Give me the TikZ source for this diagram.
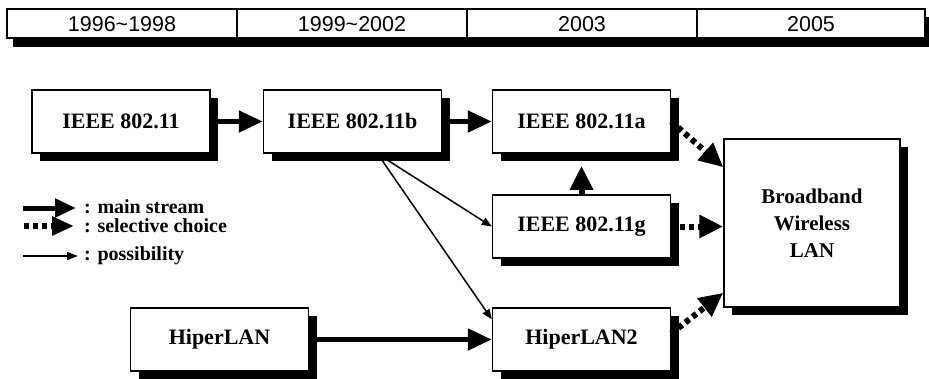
\documentclass[tikz,border=0pt]{standalone}
\usepackage{fontspec}
\setmainfont{Liberation Serif}
\setsansfont{Liberation Sans}
\usetikzlibrary{arrows.meta,shadows}
\begin{document}
\begin{tikzpicture}[x=1pt,y=-1pt,
  box/.style={draw=black, line width=1.5pt, fill=white, minimum width=178pt, minimum height=63pt,
    inner sep=0pt, font=\fontsize{22}{26}\selectfont\bfseries,
    drop shadow={shadow xshift=8pt, shadow yshift=-8pt, fill=black, opacity=1}},
  yearlbl/.style={font=\sffamily\fontsize{21.5}{24}\selectfont, inner sep=0pt},
  legtxt/.style={font=\fontsize{20}{22}\selectfont\bfseries, anchor=west, inner sep=0pt},
  mainarr/.style={line width=5pt, -{Triangle[length=24pt,width=21pt]}},
  selarr/.style={line width=6pt, dash pattern=on 5pt off 4pt, -{Triangle[length=24pt,width=22pt]}},
  posarr/.style={line width=1.5pt, -{Triangle[length=10pt,width=8pt]}},
]
\useasboundingbox (0,0) rectangle (929,378);
% header bar
\fill[black] (13,17) rectangle (935,47);
\draw[line width=1.5pt, fill=white] (7,9) rectangle (925,38);
\draw[line width=1.5pt] (237,9) -- (237,38) (467,9) -- (467,38) (697,9) -- (697,38);
\node[yearlbl] (y1) at (122,24) {1996\char"007E 1998};
\node[yearlbl] (y2) at (352,24) {1999\char"007E 2002};
\node[yearlbl] (y3) at (582,24) {2003};
\node[yearlbl] (y4) at (811,24) {2005};
% boxes
\node[box] (n1) at (121,121.5) {IEEE 802.11};
\node[box] (nb) at (352.5,121.5) {IEEE 802.11b};
\node[box] (na) at (581.5,121.5) {IEEE 802.11a};
\node[box] (ng) at (581.5,226.5) {IEEE 802.11g};
\node[box] (hl) at (219.5,339.5) {HiperLAN};
\node[box] (h2) at (581.5,339.5) {HiperLAN2};
\node[box, minimum width=176pt, minimum height=168pt, align=center,
  font=\fontsize{21}{27}\selectfont\bfseries] (bb) at (812,223) {Broadband\\Wireless\\LAN};
% connectors
\draw[mainarr] (n1.east) -- (nb.west);
\draw[mainarr] (nb.east) -- (na.west);
\draw[mainarr] (hl.east) -- (h2.west);
\draw[selarr, shorten >=12pt] (ng.north) -- (na.south);
\draw[selarr] (ng.east) -- (ng.east -| bb.west);
\draw[selarr] (na.east) -- ([yshift=-29pt]bb.north west);
\draw[selarr] ([yshift=6pt]h2.east) -- ([yshift=15pt]bb.south west);
\draw[posarr] ([xshift=25pt]nb.south) -- (ng.west);
\draw[posarr] ([xshift=25pt]nb.south) -- ([yshift=-12pt]h2.north west);
% legend
\coordinate (l1s) at (23,208); \coordinate (l1e) at (76,208);
\coordinate (l2s) at (24,226); \coordinate (l2e) at (74,226);
\coordinate (l3s) at (23,256); \coordinate (l3e) at (78,256);
\draw[line width=5pt, -{Triangle[length=21pt,width=18pt]}] (l1s) -- (l1e);
\draw[line width=6pt, dash pattern=on 5pt off 4pt, -{Triangle[length=22pt,width=18pt]}] (l2s) -- (l2e);
\draw[line width=1.5pt, -{Triangle[length=11pt,width=8pt]}] (l3s) -- (l3e);
\node[legtxt] (t1) at (84,207) {: main stream};
\node[legtxt] (t2) at (84,226) {: selective choice};
\node[legtxt] (t3) at (84,256) {: possibility};
\end{tikzpicture}
\end{document}
